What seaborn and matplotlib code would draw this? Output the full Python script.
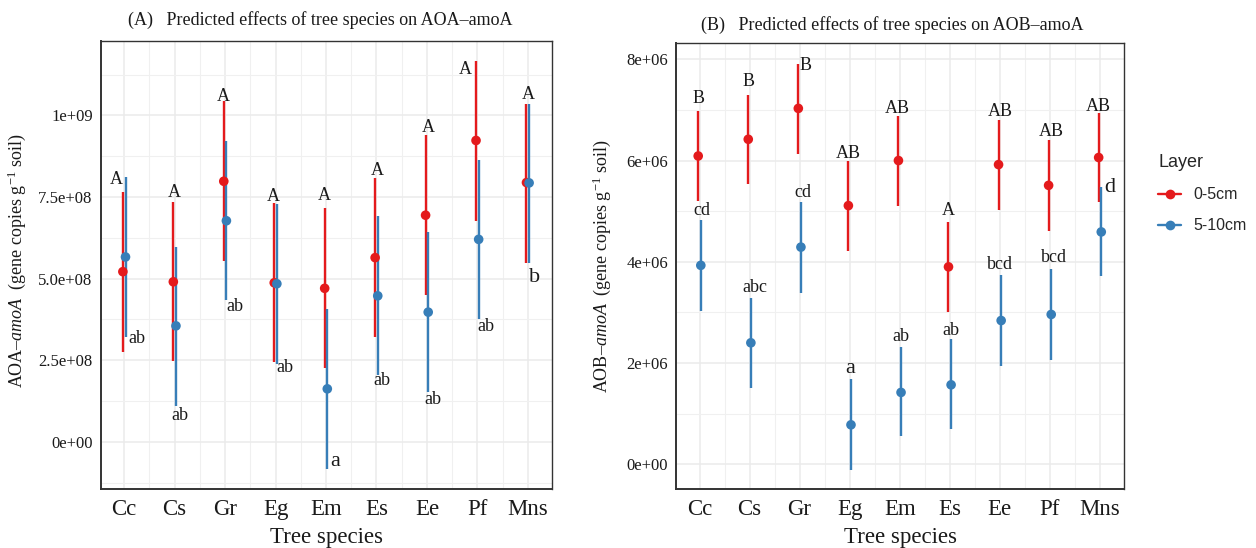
import numpy as np
import pandas as pd
import matplotlib
matplotlib.use("Agg")
import matplotlib.pyplot as plt
import seaborn as sns
from matplotlib.lines import Line2D
from matplotlib.ticker import FixedLocator, MultipleLocator

# ---------------- data ----------------
species = ["Cc", "Cs", "Gr", "Eg", "Em", "Es", "Ee", "Pf", "Mns"]
layers = ["0-5cm", "5-10cm"]

# AOA-amoA predicted means and confidence limits
aoa_top_mean = [5.21e8, 4.90e8, 7.98e8, 4.87e8, 4.70e8, 5.64e8, 6.94e8, 9.23e8, 7.94e8]
aoa_top_lo = [2.74e8, 2.46e8, 5.54e8, 2.44e8, 2.27e8, 3.20e8, 4.51e8, 6.77e8, 5.49e8]
aoa_top_hi = [7.64e8, 7.33e8, 1.043e9, 7.32e8, 7.17e8, 8.08e8, 9.39e8, 1.166e9, 1.036e9]
aoa_sub_mean = [5.66e8, 3.55e8, 6.77e8, 4.84e8, 1.62e8, 4.47e8, 3.97e8, 6.20e8, 7.93e8]
aoa_sub_lo = [3.22e8, 1.10e8, 4.35e8, 2.39e8, -0.83e8, 2.05e8, 1.51e8, 3.75e8, 5.47e8]
aoa_sub_hi = [8.11e8, 5.98e8, 9.22e8, 7.28e8, 4.06e8, 6.92e8, 6.42e8, 8.63e8, 1.036e9]
aoa_top_letters = ["A", "A", "A", "A", "A", "A", "A", "A", "A"]
aoa_sub_letters = ["ab", "ab", "ab", "ab", "a", "ab", "ab", "ab", "b"]

# AOB-amoA predicted means and confidence limits
aob_top_mean = [6.09e6, 6.42e6, 7.03e6, 5.11e6, 6.00e6, 3.90e6, 5.92e6, 5.51e6, 6.06e6]
aob_top_lo = [5.20e6, 5.53e6, 6.13e6, 4.22e6, 5.10e6, 3.01e6, 5.02e6, 4.61e6, 5.18e6]
aob_top_hi = [6.98e6, 7.30e6, 7.91e6, 5.99e6, 6.88e6, 4.78e6, 6.81e6, 6.40e6, 6.93e6]
aob_sub_mean = [3.93e6, 2.40e6, 4.29e6, 0.78e6, 1.42e6, 1.57e6, 2.84e6, 2.96e6, 4.59e6]
aob_sub_lo = [3.03e6, 1.50e6, 3.39e6, -0.11e6, 0.55e6, 0.70e6, 1.94e6, 2.07e6, 3.71e6]
aob_sub_hi = [4.83e6, 3.28e6, 5.18e6, 1.68e6, 2.31e6, 2.47e6, 3.73e6, 3.85e6, 5.47e6]
aob_top_letters = ["B", "B", "B", "AB", "AB", "A", "AB", "AB", "AB"]
aob_sub_letters = ["cd", "abc", "cd", "a", "ab", "ab", "bcd", "bcd", "d"]

aoa_ticks = [0, 2.5e8, 5.0e8, 7.5e8, 1.0e9]
aoa_tick_labels = ["0e+00", "2.5e+08", "5.0e+08", "7.5e+08", "1e+09"]
aob_ticks = [0, 2e6, 4e6, 6e6, 8e6]
aob_tick_labels = ["0e+00", "2e+06", "4e+06", "6e+06", "8e+06"]

# ---------------- label placement (pixel offsets from the interval ends) ----
aoa_top_nudge = [(-7, 13), (1, 10), (0, 5), (-1, 6), (0, 12), (2, 7), (3, 8), (-11, -8), (2, 9)]
aoa_sub_nudge = [(11, -2), (4, -10), (8, -7), (8, -4), (8, 7), (4, -6), (5, -7), (7, -7), (5, -14)]
aob_top_nudge = [(0, 12), (0, 13), (7, -2), (0, 8), (-1, 7), (0, 12), (2, 8), (3, 9), (0, 7)]
aob_sub_nudge = [(1, 9), (4, 11), (2, 10), (-1, 11), (0, 11), (0, 9), (-1, 11), (3, 12), (8, 0)]

palette = {"0-5cm": "#E41A1C", "5-10cm": "#377EB8"}
dodge = 0.026

sns.set_style("white")
plt.rcParams["font.family"] = ["Liberation Serif", "DejaVu Serif"]
plt.rcParams["mathtext.fontset"] = "custom"
plt.rcParams["mathtext.rm"] = "Liberation Serif"
plt.rcParams["mathtext.it"] = "Liberation Serif:italic"


def long_frame(top_mean, top_lo, top_hi, sub_mean, sub_lo, sub_hi):
    idx = np.arange(len(species))
    top = pd.DataFrame({"species": species, "layer": layers[0], "mean": top_mean,
                        "lo": top_lo, "hi": top_hi, "pos": idx - dodge})
    sub = pd.DataFrame({"species": species, "layer": layers[1], "mean": sub_mean,
                        "lo": sub_lo, "hi": sub_hi, "pos": idx + dodge})
    return pd.concat([top, sub], ignore_index=True)


def draw_panel(ax, df, ylim, ticks, tick_labels, minor_step, title_kw, ylabel):
    ax.set_axisbelow(True)
    for layer in layers:
        sub = df[df["layer"] == layer]
        ax.vlines(sub["pos"], sub["lo"], sub["hi"], color=palette[layer],
                  lw=1.7, zorder=2)
    sns.scatterplot(data=df, x="pos", y="mean", hue="layer", palette=palette,
                    s=48, edgecolor="none", legend=False, ax=ax, zorder=3)

    ax.set_xlim(-0.46, 8.48)
    ax.set_ylim(*ylim)
    ax.xaxis.set_major_locator(FixedLocator(np.arange(len(species))))
    ax.set_xticklabels(species)
    ax.xaxis.set_minor_locator(FixedLocator(np.arange(-0.5, len(species), 1.0)))
    ax.yaxis.set_major_locator(FixedLocator(ticks))
    ax.set_yticklabels(tick_labels)
    ax.yaxis.set_minor_locator(MultipleLocator(minor_step))

    ax.grid(which="major", color="#EBEBEB", lw=1.1)
    ax.grid(which="minor", color="#F0F0F0", lw=0.8)
    ax.tick_params(axis="x", which="major", length=4, width=1.0, color="#333333",
                   labelsize=16.5, labelcolor="#1a1a1a", pad=3)
    ax.tick_params(axis="y", which="major", length=4, width=1.0, color="#333333",
                   labelsize=12, labelcolor="#1a1a1a", pad=2)
    ax.tick_params(which="minor", length=0)
    for side, sp in ax.spines.items():
        sp.set_visible(True)
        sp.set_color("#333333")
        sp.set_linewidth(1.4 if side in ("left", "bottom") else 1.0)

    ax.set_xlabel("Tree species", fontsize=16.5, labelpad=5, color="#1a1a1a")
    ax.set_ylabel(ylabel, fontsize=13, color="#1a1a1a")
    fig.text(**title_kw, fontsize=13, ha="center", va="center", color="#1a1a1a")


def letter_size(txt):
    return 16 if len(txt) == 1 and txt.islower() else 13


def annotate(ax, xs, ys, letters, nudges):
    for x, y, t, (dx, dy) in zip(xs, ys, letters, nudges):
        ax.annotate(t, xy=(x, y), xytext=(dx, dy), textcoords="offset pixels",
                    ha="center", va="center", fontsize=letter_size(t),
                    color="#1a1a1a", zorder=4)


fig = plt.figure(figsize=(12.56, 5.48), dpi=100)
ax_a = fig.add_axes([0.0804, 0.1071, 0.3591, 0.8186])
ax_b = fig.add_axes([0.5386, 0.1071, 0.3563, 0.8139])

df_a = long_frame(aoa_top_mean, aoa_top_lo, aoa_top_hi, aoa_sub_mean, aoa_sub_lo, aoa_sub_hi)
df_b = long_frame(aob_top_mean, aob_top_lo, aob_top_hi, aob_sub_mean, aob_sub_lo, aob_sub_hi)

draw_panel(ax_a, df_a, (-1.458e8, 1.2286e9), aoa_ticks, aoa_tick_labels, 1.25e8,
           dict(x=320 / 1256, y=1 - 20 / 548,
                s="(A)   Predicted effects of tree species on AOA\u2013amoA"),
           "AOA\u2013$\\mathit{amoA}$  (gene copies g$^{-1}$ soil)")
draw_panel(ax_b, df_b, (-0.494e6, 8.316e6), aob_ticks, aob_tick_labels, 1e6,
           dict(x=892 / 1256, y=1 - 25 / 548,
                s="(B)   Predicted effects of tree species on AOB\u2013amoA"),
           "AOB\u2013$\\mathit{amoA}$  (gene copies g$^{-1}$ soil)")

ax_a.yaxis.set_label_coords(-0.162, 0.51)
ax_b.yaxis.set_label_coords(-0.142, 0.50)

idx = np.arange(len(species))
annotate(ax_a, idx - dodge, aoa_top_hi, aoa_top_letters, aoa_top_nudge)
annotate(ax_a, idx + dodge, aoa_sub_lo, aoa_sub_letters, aoa_sub_nudge)
annotate(ax_b, idx - dodge, aob_top_hi, aob_top_letters, aob_top_nudge)
annotate(ax_b, idx + dodge, aob_sub_hi, aob_sub_letters, aob_sub_nudge)

handles = [Line2D([0], [0], color=palette[l], lw=1.7, marker="o", markersize=7,
                  markeredgecolor="none") for l in layers]
leg = fig.legend(handles, layers, title="Layer", loc="upper left",
                 bbox_to_anchor=(1144 / 1256, 1 - 140 / 548), frameon=False,
                 prop={"family": "Liberation Sans", "size": 11.5},
                 title_fontproperties={"family": "Liberation Sans", "size": 13},
                 handlelength=1.4, handletextpad=0.8, labelspacing=1.0,
                 alignment="left")

fig.savefig("out.png", dpi=100, facecolor="white")
